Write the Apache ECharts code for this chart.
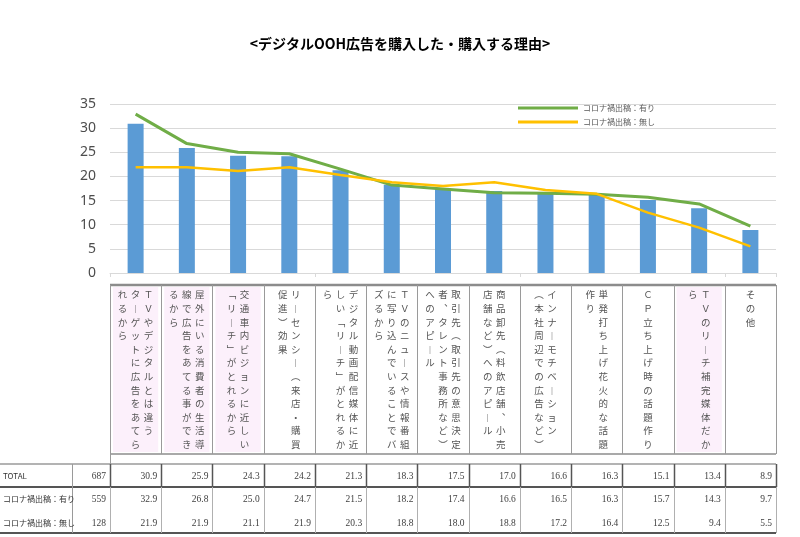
<!DOCTYPE html>
<html><head><meta charset="utf-8">
<script src="https://cdn.jsdelivr.net/npm/echarts@6/dist/echarts.min.js"></script>
<style>html,body{margin:0;padding:0;background:#fff}#c{width:800px;height:537px}</style>
</head><body><div id="c"></div>
<script>
const chartTitle = '<デジタルOOH広告を購入した・購入する理由>';
const categories = [
  'ＴＶやデジタルとは違う\nターゲットに広告をあてら\nれるから',
  '屋外にいる消費者の生活導\n線で広告をあてる事ができ\nるから',
  '交通車内ビジョンに近しい\n「リーチ」がとれるから',
  'リーセンシー（来店・購買\n促進）効果',
  'デジタル動画配信媒体に近\nしい「リーチ」がとれるか\nら',
  'ＴＶのニュースや情報番組\nに写り込んでいることでバ\nズるから',
  '取引先（取引先の意思決定\n者、タレント事務所など）\nへのアピール',
  '商品卸先（料飲店舗、小売\n店舗など）へのアピール',
  'インナーモチベーション\n（本社周辺での広告など）',
  '単発打ち上げ花火的な話題\n作り',
  'ＣＰ立ち上げ時の話題作り',
  'ＴＶのリーチ補完媒体だか\nら',
  'その他'
];
const seriesNames = ['TOTAL', 'コロナ禍出稿：有り', 'コロナ禍出稿：無し'];
const sampleSizes = [687, 559, 128];
const totalValues = [30.9, 25.9, 24.3, 24.2, 21.3, 18.3, 17.5, 17.0, 16.6, 16.3, 15.1, 13.4, 8.9];
const withValues = [32.9, 26.8, 25.0, 24.7, 21.5, 18.2, 17.4, 16.6, 16.5, 16.3, 15.7, 14.3, 9.7];
const withoutValues = [21.9, 21.9, 21.1, 21.9, 20.3, 18.8, 18.0, 18.8, 17.2, 16.4, 12.5, 9.4, 5.5];
const highlightedCategories = [0, 1, 2, 11];

const chart = echarts.init(document.getElementById('c'), null, {renderer: 'canvas'});
const JP = '"Noto Sans CJK JP", "Noto Sans", sans-serif';

chart.setOption({
  animation: false,
  title: {
    text: chartTitle, left: 'center', top: 32,
    textStyle: {fontSize: 14, fontWeight: 'bold', color: '#000', fontFamily: JP}
  },
  legend: {
    data: [seriesNames[1], seriesNames[2]],
    orient: 'vertical', left: 513, top: 99, itemGap: 6,
    icon: 'rect', itemWidth: 60, itemHeight: 3, selectedMode: false,
    textStyle: {fontSize: 8, color: '#595959', fontFamily: JP}
  },
  grid: {left: 110, right: 24, top: 104, bottom: 264},
  xAxis: {
    type: 'category', data: categories,
    axisLine: {lineStyle: {color: '#d9d9d9', width: 1}},
    axisTick: {show: true, length: 4, lineStyle: {color: '#d9d9d9'}},
    axisLabel: {show: false}
  },
  yAxis: {
    type: 'value', min: 0, max: 35, interval: 5,
    axisLine: {show: false}, axisTick: {show: false},
    axisLabel: {fontSize: 14, color: '#4d4d4d', margin: 14, fontFamily: '"Noto Sans", sans-serif'},
    splitLine: {lineStyle: {color: '#d9d9d9', width: 1}}
  },
  series: [
    {name: seriesNames[0], type: 'bar', data: totalValues, barWidth: 16,
     itemStyle: {color: '#5b9bd5'}},
    {name: seriesNames[1], type: 'line', data: withValues, symbol: 'none',
     lineStyle: {color: '#70ad47', width: 3}, itemStyle: {color: '#70ad47'}},
    {name: seriesNames[2], type: 'line', data: withoutValues, symbol: 'none',
     lineStyle: {color: '#ffc000', width: 2.5}, itemStyle: {color: '#ffc000'}}
  ]
});

const vertMap = {'（': '︵', '）': '︶', '「': '﹁', '」': '﹂', 'ー': '︱', '、': '︑'};
const toVertical = s => Array.from(s).map(c => vertMap[c] || c).join('\n');

const centers = categories.map((c, i) => chart.convertToPixel({xAxisIndex: 0}, i));
const cw = centers[1] - centers[0];
const leftEdge = centers[0] - cw / 2;
const rightEdge = centers[centers.length - 1] + cw / 2;
const g = [];
const line = (x1, y1, x2, y2, color, w, z) => g.push({type: 'line', z: z || 5, silent: true,
  shape: {x1, y1, x2, y2}, style: {stroke: color, lineWidth: w}});

// category label box
const boxTop = 285, boxBottom = 454;
highlightedCategories.forEach(i => {
  g.push({type: 'rect', z: 1, silent: true,
    shape: {x: centers[i] - cw / 2 + 3, y: boxTop + 2, width: cw - 6, height: boxBottom - boxTop - 4},
    style: {fill: '#fcf0fb'}});
});
line(leftEdge, boxTop, rightEdge, boxTop, '#8c8c8c', 2.5);
line(leftEdge, boxBottom, rightEdge, boxBottom, '#8c8c8c', 1.5);
for (let k = 0; k <= categories.length; k++) {
  const x = Math.round(leftEdge + k * cw) + 0.5;
  line(x, boxTop, x, k === 0 ? boxBottom + 14 : boxBottom, '#9a9a9a', 1);
}
categories.forEach((cat, i) => {
  const cols = cat.split('\n');
  const n = cols.length;
  cols.forEach((col, j) => {
    g.push({type: 'text', z: 10, silent: true,
      style: {text: toVertical(col), x: centers[i] + ((n - 1) / 2 - j) * 13, y: 288,
        align: 'center', verticalAlign: 'top', lineHeight: 13.6,
        font: '9.5px ' + JP, fill: '#555'}});
  });
});

// data table
const tTop = 464, tDiv = 487, tBottom = 533, labelRight = 72;
const rowY = [476, 499, 523];
line(0, tTop, rightEdge, tTop, '#9a9a9a', 1.5);
line(0, tDiv, rightEdge, tDiv, '#555', 2);
line(0, tBottom, rightEdge, tBottom, '#555', 2);
line(labelRight + 0.5, tTop, labelRight + 0.5, tBottom, '#9a9a9a', 1);
for (let k = 0; k <= categories.length; k++) {
  const x = Math.round(leftEdge + k * cw) + 0.5;
  line(x, tTop, x, tDiv, '#555', 1.5);
  line(x, tDiv, x, tBottom, '#b0b0b0', 1);
}
const rowsData = [totalValues, withValues, withoutValues];
rowsData.forEach((vals, r) => {
  g.push({type: 'text', z: 10, silent: true,
    style: {text: seriesNames[r], x: 3, y: rowY[r], align: 'left', verticalAlign: 'middle',
      font: '8px ' + JP, fill: '#333'}});
  g.push({type: 'text', z: 10, silent: true,
    style: {text: String(sampleSizes[r]), x: leftEdge - 4, y: rowY[r], align: 'right', verticalAlign: 'middle',
      font: '9.5px "Liberation Serif", serif', fill: '#404040'}});
  vals.forEach((v, i) => {
    g.push({type: 'text', z: 10, silent: true,
      style: {text: v.toFixed(1), x: centers[i] + cw / 2 - 4, y: rowY[r], align: 'right', verticalAlign: 'middle',
        font: '9.5px "Liberation Serif", serif', fill: '#404040'}});
  });
});

chart.setOption({graphic: g});
</script>
</body></html>
